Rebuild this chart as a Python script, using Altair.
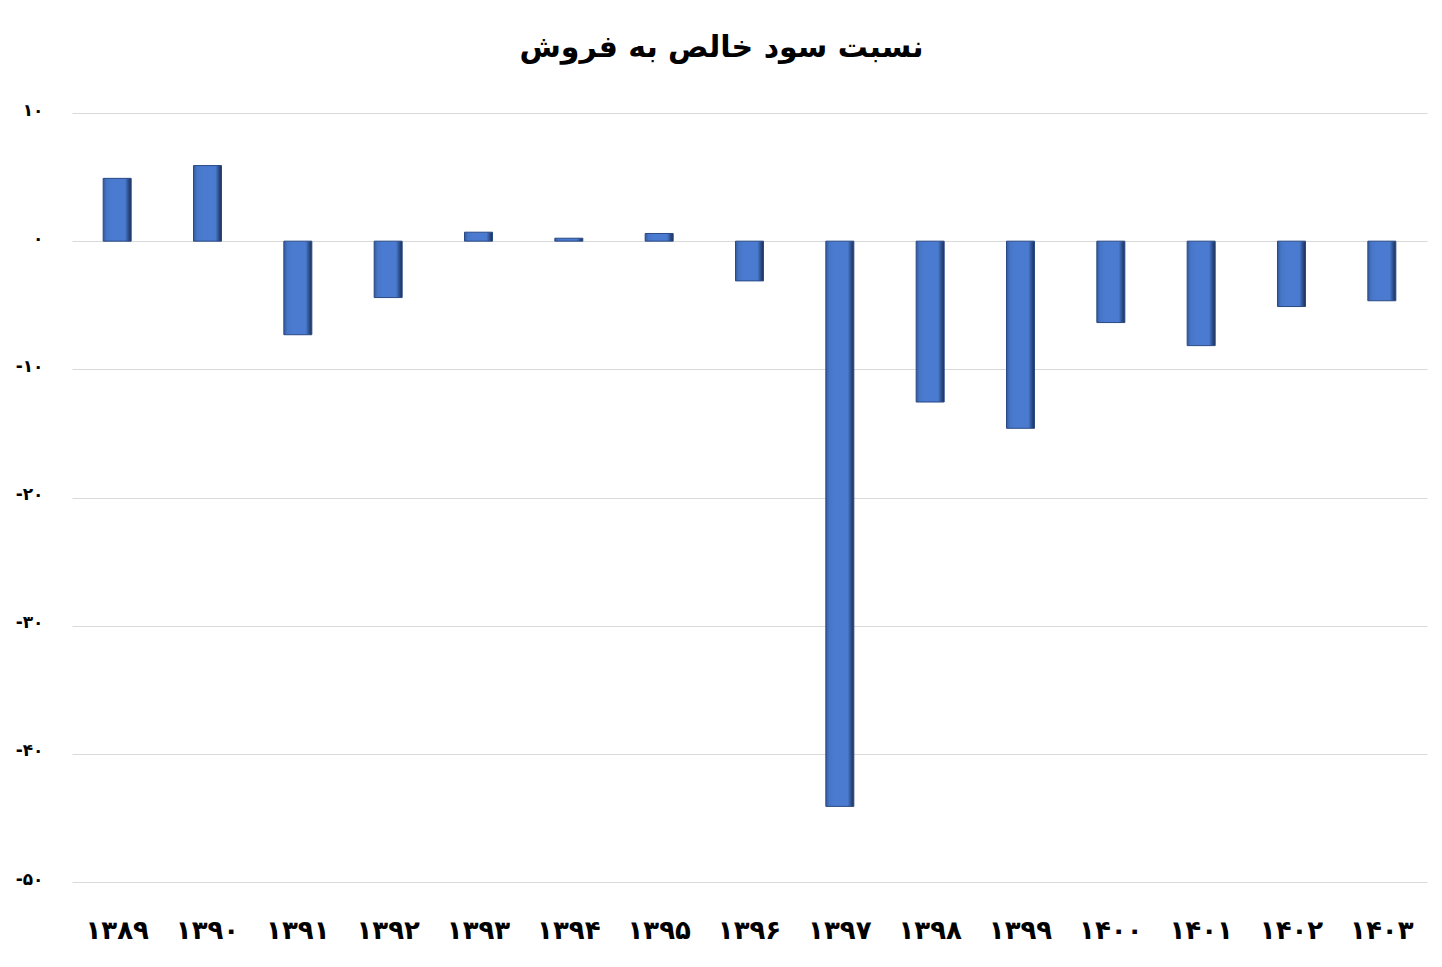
import altair as alt
import pandas as pd

years = ["۱۳۸۹", "۱۳۹۰", "۱۳۹۱", "۱۳۹۲", "۱۳۹۳", "۱۳۹۴", "۱۳۹۵", "۱۳۹۶",
         "۱۳۹۷", "۱۳۹۸", "۱۳۹۹", "۱۴۰۰", "۱۴۰۱", "۱۴۰۲", "۱۴۰۳"]
values = [4.9, 5.9, -7.3, -4.4, 0.7, 0.23, 0.6, -3.1,
          -44.1, -12.55, -14.6, -6.35, -8.15, -5.1, -4.65]
y_ticks = [10, 0, -10, -20, -30, -40, -50]
title_text = "نسبت سود خالص به فروش"

df = pd.DataFrame({"year": years, "value": values})

FONT = "DejaVu Sans"

grad = alt.Gradient(
    gradient="linear", x1=0, y1=0, x2=1, y2=0,
    stops=[
        alt.GradientStop(color="#34599c", offset=0),
        alt.GradientStop(color="#4675c6", offset=0.12),
        alt.GradientStop(color="#4a7bd0", offset=0.3),
        alt.GradientStop(color="#4a7bd0", offset=0.78),
        alt.GradientStop(color="#2d4f8c", offset=0.9),
        alt.GradientStop(color="#1b2f57", offset=1),
    ],
)

label_expr = ("replace(replace(replace(replace(replace(replace(replace(format(datum.value,'d'),"
              "'0','۰'),'1','۱'),'2','۲'),'3','۳'),'4','۴'),'5','۵'),'\u2212','-')")

chart = alt.Chart(df).mark_bar(size=28, color=grad, stroke="#2a4a85", strokeWidth=1).encode(
    x=alt.X("year:N", sort=years, title=None,
            scale=alt.Scale(paddingInner=0.0, paddingOuter=0.0),
            axis=alt.Axis(labelAngle=0, labelFont=FONT, labelFontSize=26,
                          labelFontWeight="bold", labelColor="#000000",
                          labelPadding=35, domain=False, ticks=False, grid=False)),
    y=alt.Y("value:Q", title=None,
            scale=alt.Scale(domain=[-50, 10], nice=False),
            axis=alt.Axis(values=y_ticks, labelExpr=label_expr, labelFont=FONT,
                          labelFontSize=17, labelFontWeight="bold",
                          labelColor="#000000", labelPadding=29, labelOffset=-3,
                          domain=False, ticks=False, gridColor="#d9d9d9",
                          gridWidth=1)),
).properties(
    width=1355, height=769,
    title=alt.TitleParams(title_text, font=FONT, fontSize=30, fontWeight="bold",
                          color="#000000", anchor="middle", offset=38, dx=-28),
    autosize=alt.AutoSizeParams(type="none"),
    padding={"left": 64, "top": 105, "right": 5, "bottom": 70},
).configure(background="white").configure_view(stroke=None, strokeWidth=0)

chart.save("out.html", embed_options={"renderer": "svg", "actions": False})
